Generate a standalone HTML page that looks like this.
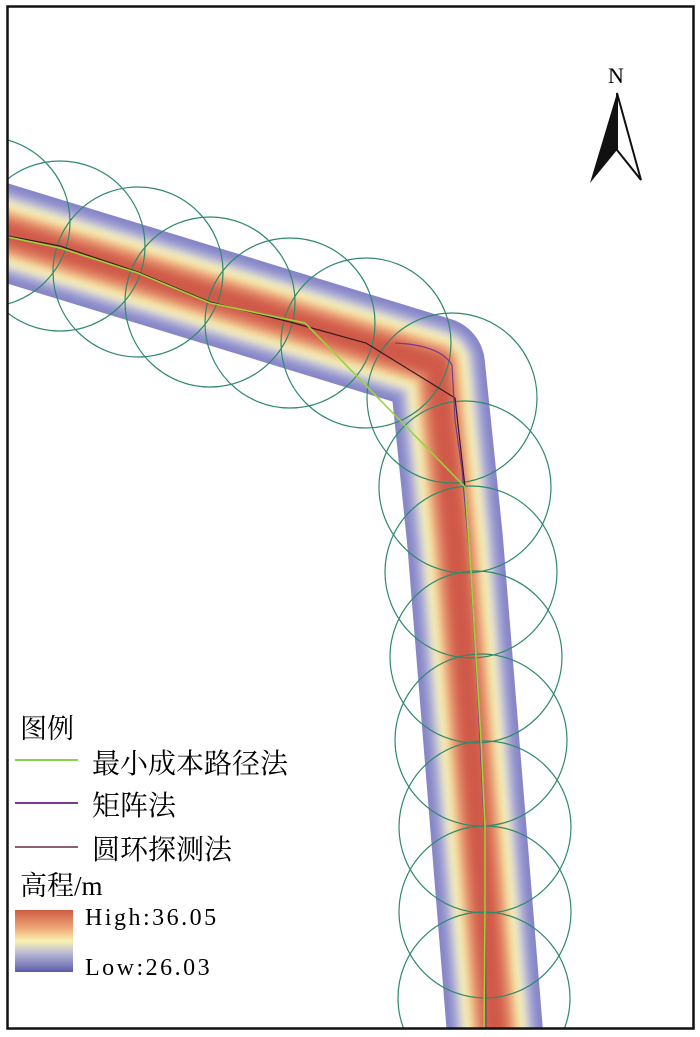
<!DOCTYPE html>
<html><head><meta charset="utf-8"><style>
html,body{margin:0;padding:0;background:#fff;}
svg{display:block;}
text{font-family:"Liberation Serif","Noto Serif CJK SC","Noto Sans CJK SC",serif;}
</style></head><body>
<svg width="700" height="1037" viewBox="0 0 700 1037" xmlns="http://www.w3.org/2000/svg">
<defs>
<clipPath id="c"><rect x="8" y="7" width="686" height="1021"/></clipPath>
<filter id="b" x="-10%" y="-10%" width="120%" height="120%"><feGaussianBlur stdDeviation="3.5"/></filter>
<linearGradient id="lg" x1="0" y1="0" x2="0" y2="1">
<stop offset="0" stop-color="#cf5a44"/><stop offset="0.3" stop-color="#eeaa78"/>
<stop offset="0.5" stop-color="#f8f2b0"/><stop offset="0.7" stop-color="#b8b8d8"/>
<stop offset="1" stop-color="#5c5ca8"/></linearGradient>
</defs>
<rect x="0" y="0" width="700" height="1037" fill="#fff"/>
<g clip-path="url(#c)">
<g fill="none" stroke-linejoin="round" stroke-linecap="butt">
<path d="M-10,228 L437,365 L455,540 L496,1045" stroke="#8686c8" stroke-width="96"/>
<g filter="url(#b)">
<path d="M-10,228 L437,365 L455,540 L496,1045" stroke="#a9a9d6" stroke-width="82"/>
<path d="M-10,228 L437,365 L455,540 L496,1045" stroke="#e4e0cc" stroke-width="68"/>
<path d="M-10,228 L437,365 L455,540 L496,1045" stroke="#f6eeae" stroke-width="58"/>
<path d="M-10,228 L437,365 L455,540 L496,1045" stroke="#efb282" stroke-width="46"/>
<path d="M-10,228 L437,365 L455,540 L496,1045" stroke="#de7c5e" stroke-width="34"/>
<path d="M-10,228 L437,365 L455,540 L496,1045" stroke="#d05a48" stroke-width="20"/>
</g>
</g>
<g fill="none" stroke="#2f8a6a" stroke-width="1.2">
<circle cx="-15" cy="222" r="85"/>
<circle cx="60" cy="246" r="85"/>
<circle cx="138" cy="272" r="85"/>
<circle cx="210" cy="302" r="85"/>
<circle cx="290" cy="323" r="85"/>
<circle cx="366" cy="343" r="85"/>
<circle cx="452" cy="398" r="85"/>
<circle cx="465" cy="487" r="86"/>
<circle cx="471" cy="572" r="86"/>
<circle cx="476" cy="657" r="86"/>
<circle cx="481" cy="740" r="86"/>
<circle cx="485" cy="827" r="86"/>
<circle cx="485" cy="912" r="86"/>
<circle cx="484" cy="998" r="86"/>
</g>
<g fill="none">
<path d="M8,236 L60,246 L138,272 L210,302 L290,322 L366,343 L455,398 L465,487 L471,572 L476,657 L481,740 L485,827 L485,912 L484,1030" stroke="#3a1a22" stroke-width="1.2"/>
<path d="M395,343 Q440,345 452,365 L455,420 L462,470 L470,560 L478,700 L485,840 L486,1030" stroke="#7a3a8a" stroke-width="1.2"/>
<path d="M8,237 L60,248 L138,273 L210,303 L305,323 L465,487 L471,572 L476,657 L481,740 L485,827 L485,912 L484,1030" stroke="#9ad43a" stroke-width="1.6"/>
</g>
</g>
<rect x="7.5" y="6.5" width="686" height="1022" fill="none" stroke="#111" stroke-width="2.5"/>
<text x="616" y="83" font-size="22" text-anchor="middle">N</text>
<polygon points="617,93 590,183 617,150" fill="#111"/>
<polygon points="617,93 641,180 617,150" fill="#fff" stroke="#111" stroke-width="2"/>
<text x="20" y="738" font-size="27">图例</text>
<line x1="15" y1="760" x2="78" y2="760" stroke="#8fd04a" stroke-width="2"/>
<text x="92" y="773" font-size="28">最小成本路径法</text>
<line x1="15" y1="803" x2="78" y2="803" stroke="#7a3a8a" stroke-width="2"/>
<text x="92" y="815" font-size="28">矩阵法</text>
<line x1="15" y1="847" x2="78" y2="847" stroke="#6a2a3a" stroke-width="1.5"/>
<text x="92" y="859" font-size="28">圆环探测法</text>
<text x="20" y="895" font-size="27">高程/m</text>
<rect x="15" y="910" width="58" height="62" fill="url(#lg)"/>
<text x="85" y="925" font-size="24" letter-spacing="2.5">High:36.05</text>
<text x="85" y="975" font-size="24" letter-spacing="2.5">Low:26.03</text>
</svg>
</body></html>
